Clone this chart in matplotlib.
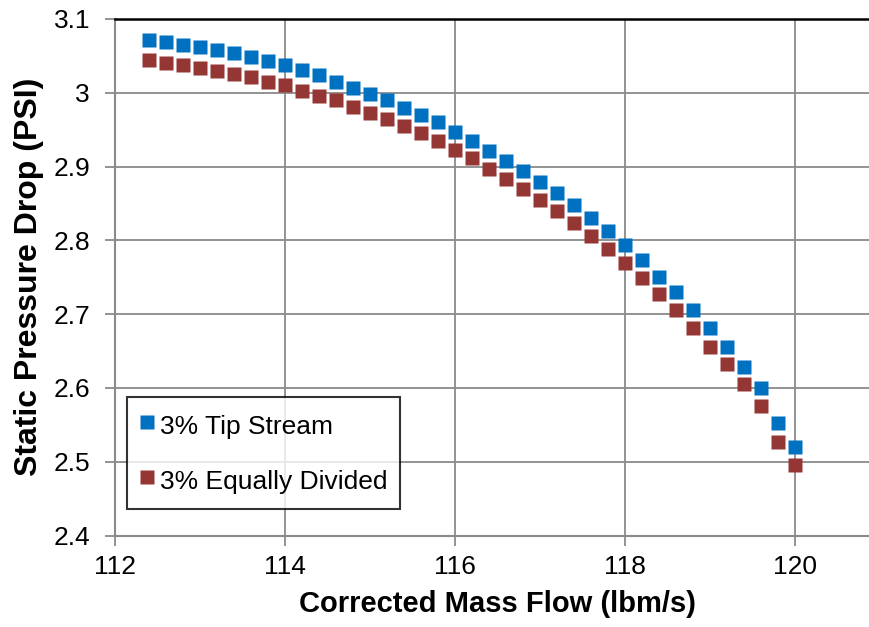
import matplotlib
matplotlib.use("Agg")
import matplotlib.pyplot as plt
from matplotlib.ticker import FuncFormatter, MultipleLocator

plt.rcParams['font.family'] = ['Liberation Sans', 'DejaVu Sans']

# Corrected mass flow (lbm/s)
mass_flow = [112.4, 112.6, 112.8, 113.0, 113.2, 113.4, 113.6, 113.8, 114.0, 114.2,
             114.4, 114.6, 114.8, 115.0, 115.2, 115.4, 115.6, 115.8, 116.0, 116.2,
             116.4, 116.6, 116.8, 117.0, 117.2, 117.4, 117.6, 117.8, 118.0, 118.2,
             118.4, 118.6, 118.8, 119.0, 119.2, 119.4, 119.6, 119.8, 120.0]

# Static pressure drop (PSI)
tip_stream = [3.071, 3.069, 3.065, 3.062, 3.058, 3.054, 3.048, 3.043, 3.038, 3.031,
              3.024, 3.015, 3.007, 2.999, 2.990, 2.980, 2.970, 2.960, 2.947, 2.935,
              2.921, 2.908, 2.894, 2.879, 2.864, 2.848, 2.830, 2.813, 2.794, 2.773,
              2.751, 2.730, 2.705, 2.681, 2.655, 2.629, 2.600, 2.552, 2.520]
equally_divided = [3.044, 3.041, 3.037, 3.034, 3.030, 3.026, 3.021, 3.015, 3.010, 3.003,
                   2.996, 2.990, 2.981, 2.972, 2.964, 2.955, 2.945, 2.934, 2.923, 2.911,
                   2.897, 2.883, 2.870, 2.855, 2.840, 2.824, 2.806, 2.788, 2.769, 2.749,
                   2.727, 2.705, 2.681, 2.656, 2.632, 2.605, 2.576, 2.527, 2.496]

series_labels = ['3% Tip Stream', '3% Equally Divided']
series_colors = ['#0070C0', '#943634']

fig = plt.figure(figsize=(8.7, 6.27), dpi=100)
ax = fig.add_axes([0.1322, 0.1459, 0.8793, 0.8238])

for ys, lab, col in zip([tip_stream, equally_divided], series_labels, series_colors):
    ax.plot(mass_flow, ys, linestyle='none', marker='s', markersize=10,
            markerfacecolor=col, markeredgecolor='none', label=lab, zorder=3)

ax.set_xlim(112, 121)
ax.set_ylim(2.4, 3.1)
ax.xaxis.set_major_locator(MultipleLocator(2))
ax.yaxis.set_major_locator(MultipleLocator(0.1))
ax.yaxis.set_major_formatter(FuncFormatter(lambda v, p: f'{round(v, 1):g}'))
ax.xaxis.set_major_formatter(FuncFormatter(lambda v, p: f'{v:g}'))

grid_col = '#8a8a8a'
ax.grid(True, color=grid_col, linewidth=1.3, zorder=1)
ax.set_axisbelow(True)

for side in ['left', 'bottom']:
    ax.spines[side].set_color(grid_col)
    ax.spines[side].set_linewidth(1.5)
ax.spines['right'].set_visible(False)
ax.spines['top'].set_color('black')
ax.spines['top'].set_linewidth(1.8)

ax.tick_params(axis='both', which='major', labelsize=19, color=grid_col,
               width=1.3, length=7, direction='out')
ax.tick_params(axis='y', pad=11)
ax.tick_params(axis='x', pad=7)

ax.set_xlabel('Corrected Mass Flow (lbm/s)', fontsize=21, fontweight='bold', labelpad=8)
ax.set_ylabel('Static Pressure Drop (PSI)', fontsize=23, fontweight='bold', labelpad=7)

leg = ax.legend(loc='upper left', bbox_to_anchor=(0.0157, 0.268), borderaxespad=0,
                fontsize=19, frameon=True, fancybox=False, edgecolor='black',
                borderpad=0.46, labelspacing=0.88, handlelength=0.6,
                handleheight=1.5, handletextpad=0.2, markerscale=0.95)
leg.get_frame().set_linewidth(1.5)
leg.set_zorder(5)

fig.savefig('out.png', dpi=100)
